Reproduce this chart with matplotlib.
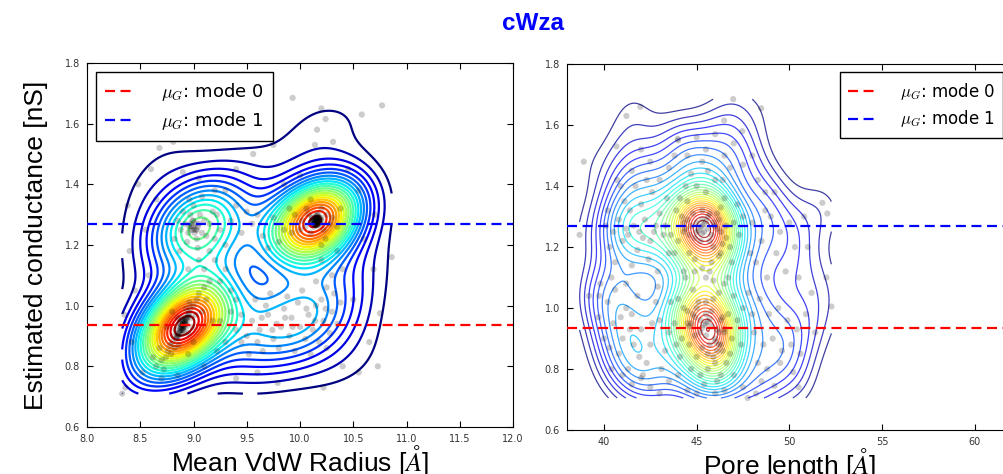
import numpy as np
import matplotlib
matplotlib.use('Agg')
import matplotlib.pyplot as plt

plt.rcParams['mathtext.fontset'] = 'cm'

title = 'cWza'
ylabel = 'Estimated conductance [nS]'
xlabels = ['Mean VdW Radius [$\\AA$]', 'Pore length [$\\AA$]']
mode_conductance = [0.935, 1.27]
mode_labels = ['$\\mu_G$: mode 0', '$\\mu_G$: mode 1']
mode_colors = ['#ff0000', '#0000ff']
radius_ticks = [8.0, 8.5, 9.0, 9.5, 10.0, 10.5, 11.0, 11.5, 12.0]
pore_ticks = [40, 45, 50, 55, 60]
cond_ticks = [0.6, 0.8, 1.0, 1.2, 1.4, 1.6, 1.8]

# (mean VdW radius, conductance) samples
radius_points = [
    (8.88, 0.93), (8.90, 0.94), (8.92, 0.935), (8.89, 0.92), (8.91, 0.95), (8.87, 0.91), (8.93, 0.96),
    (8.86, 0.90), (8.90, 0.925), (8.92, 0.945), (8.88, 0.94), (8.94, 0.95), (8.85, 0.905), (8.89, 0.955),
    (8.91, 0.915), (8.95, 0.97), (8.84, 0.89), (8.90, 0.935), (8.93, 0.93), (8.87, 0.94),
    (8.89, 0.935), (8.91, 0.94), (8.90, 0.93), (8.88, 0.925), (8.92, 0.95), (8.87, 0.915), (8.93, 0.955),
    (8.90, 0.945), (8.89, 0.925), (8.91, 0.93), (8.86, 0.91), (8.94, 0.96), (8.88, 0.92), (8.92, 0.94),
    (8.90, 0.95), (8.85, 0.90), (8.95, 0.965), (8.87, 0.93), (8.93, 0.94), (8.89, 0.91), (8.91, 0.96),
    (8.84, 0.895), (8.96, 0.975), (8.90, 0.92), (8.88, 0.95),
    (8.80, 0.88), (8.97, 0.99), (8.82, 0.86), (9.00, 1.00), (8.78, 0.87), (8.98, 0.96), (8.83, 0.92),
    (8.95, 0.91), (8.76, 0.85), (9.03, 1.02), (8.85, 0.96), (8.99, 0.93), (8.74, 0.83), (9.05, 1.04),
    (8.81, 0.90), (8.96, 1.01), (8.79, 0.84), (9.02, 0.97), (8.86, 0.87), (8.93, 0.99),
    (8.70, 0.82), (9.10, 1.06), (8.72, 0.79), (9.08, 0.98), (8.65, 0.80), (9.12, 1.02), (8.68, 0.86),
    (9.00, 0.88), (8.75, 0.93), (9.15, 1.08), (8.62, 0.83), (8.95, 0.84), (8.80, 0.98), (9.18, 0.95),
    (8.70, 0.76),
    (10.15, 1.28), (10.17, 1.27), (10.13, 1.285), (10.16, 1.29), (10.14, 1.27), (10.18, 1.28),
    (10.12, 1.275), (10.16, 1.265), (10.15, 1.295), (10.19, 1.285), (10.11, 1.29), (10.17, 1.30),
    (10.15, 1.275), (10.16, 1.285), (10.14, 1.28), (10.17, 1.275), (10.13, 1.27), (10.18, 1.29),
    (10.15, 1.265), (10.16, 1.295), (10.17, 1.275), (10.13, 1.27), (10.18, 1.29), (10.15, 1.265),
    (10.12, 1.28), (10.19, 1.27), (10.14, 1.29), (10.17, 1.285), (10.10, 1.275), (10.20, 1.28),
    (10.15, 1.285), (10.13, 1.26), (10.14, 1.275), (10.16, 1.28), (10.15, 1.27), (10.17, 1.29),
    (10.13, 1.28), (10.18, 1.275), (10.14, 1.285), (10.16, 1.27), (10.12, 1.29), (10.19, 1.28),
    (10.15, 1.29), (10.17, 1.265), (10.11, 1.28), (10.20, 1.29), (10.14, 1.265), (10.16, 1.30),
    (10.05, 1.26), (10.25, 1.30), (10.08, 1.30), (10.22, 1.25), (10.02, 1.28), (10.28, 1.27),
    (10.10, 1.24), (10.20, 1.32), (10.06, 1.32), (10.24, 1.22), (10.00, 1.25), (10.30, 1.29),
    (9.95, 1.30), (10.35, 1.26), (10.10, 1.35), (10.20, 1.20), (9.92, 1.24), (10.38, 1.32),
    (8.98, 1.26), (9.02, 1.25), (9.05, 1.27), (8.95, 1.24), (9.00, 1.28), (8.92, 1.27), (9.08, 1.24),
    (9.03, 1.22), (8.97, 1.30), (9.10, 1.28), (8.88, 1.25), (9.06, 1.30), (8.94, 1.21), (9.12, 1.23),
    (8.85, 1.28), (9.00, 1.33), (9.15, 1.27), (8.90, 1.31), (9.04, 1.19), (8.82, 1.22), (9.18, 1.31),
    (8.96, 1.35), (9.20, 1.22), (8.87, 1.18), (9.08, 1.36),
    (8.98, 1.25), (9.00, 1.26), (9.02, 1.27), (8.96, 1.26), (9.01, 1.24), (8.99, 1.28), (9.04, 1.26),
    (8.97, 1.27), (9.03, 1.25), (9.00, 1.25),
    (9.55, 0.95), (9.62, 0.92), (9.70, 0.97), (9.78, 0.94), (9.85, 0.99), (9.92, 0.96), (10.00, 0.93),
    (10.08, 0.97), (10.15, 1.00), (10.22, 0.95), (10.30, 0.98), (9.60, 0.88), (9.68, 1.00), (9.75, 0.89),
    (9.82, 0.93), (9.90, 0.90), (9.98, 1.01), (10.05, 0.89), (10.12, 0.92), (10.20, 1.02), (10.28, 0.91),
    (9.50, 0.90), (9.58, 1.02), (9.72, 1.04), (9.88, 1.03), (10.02, 1.05), (10.18, 0.88), (10.35, 0.94),
    (9.45, 0.97), (9.65, 0.85), (9.80, 0.86), (9.95, 0.85), (10.10, 0.84), (10.25, 0.86), (10.38, 1.01),
    (9.40, 0.92), (9.52, 0.84), (9.93, 0.93), (10.06, 0.99), (9.74, 0.92), (10.14, 0.95), (9.86, 0.96),
    (10.32, 1.04), (9.64, 0.96), (10.24, 0.99),
    (9.25, 1.25), (9.35, 1.28), (9.45, 1.24), (9.55, 1.27), (9.65, 1.23), (9.75, 1.29), (9.85, 1.25),
    (9.30, 1.20), (9.50, 1.31), (9.70, 1.19), (9.40, 1.33), (9.60, 1.30), (9.80, 1.21), (9.90, 1.32),
    (9.22, 1.30),
    (9.10, 1.12), (9.20, 1.15), (9.25, 1.08), (9.15, 1.18), (9.30, 1.12), (8.95, 1.12), (9.05, 1.15),
    (9.35, 1.05), (10.20, 1.15), (10.30, 1.10), (10.15, 1.08), (10.35, 1.18), (10.25, 1.06), (10.40, 1.12),
    (9.25, 0.95), (9.30, 0.88), (9.35, 0.98), (9.40, 1.02), (9.22, 0.85), (9.45, 0.88),
    (8.33, 0.71), (8.36, 0.73), (8.35, 0.97), (8.38, 1.33), (8.40, 1.18), (8.45, 1.05), (8.42, 0.88),
    (8.48, 1.40), (8.55, 1.25), (8.58, 1.10), (8.52, 0.78), (8.60, 1.45), (8.68, 1.52), (8.81, 1.54),
    (8.90, 1.44), (9.05, 1.42), (9.20, 1.38), (9.40, 1.45), (9.56, 1.50), (9.75, 1.53), (9.93, 1.685),
    (10.00, 1.43), (10.14, 1.53), (10.16, 1.58), (10.20, 1.65), (10.24, 1.615), (10.31, 1.54),
    (10.45, 1.45), (10.58, 1.63), (10.77, 1.66), (10.55, 1.38), (10.60, 1.22), (10.69, 1.12),
    (10.86, 1.16), (10.75, 0.975), (10.65, 0.88), (10.73, 0.80), (10.55, 0.78), (10.40, 0.80),
    (10.22, 0.73), (9.79, 0.745), (9.60, 0.78), (9.40, 0.76), (9.10, 0.80), (8.85, 0.77), (10.50, 1.02),
    (10.70, 1.30), (8.65, 1.35), (9.30, 1.38), (9.85, 1.40),
]

# (pore length, conductance) samples
pore_points = [
    (45.3, 1.27), (45.0, 1.28), (45.6, 1.26), (44.7, 1.27), (45.9, 1.28), (45.3, 1.29), (45.0, 1.25),
    (45.6, 1.30), (46.1, 1.26), (44.5, 1.29), (45.3, 1.245), (45.8, 1.24), (44.8, 1.31), (46.2, 1.29),
    (44.4, 1.26), (45.4, 1.275), (45.2, 1.265), (45.5, 1.285), (45.1, 1.255), (46.3, 1.25),
    (44.3, 1.28), (45.7, 1.31), (44.9, 1.23), (46.0, 1.27), (45.3, 1.32), (45.2, 1.22), (46.1, 1.31),
    (44.6, 1.24), (45.7, 1.22), (45.4, 1.25), (46.4, 1.21), (46.6, 1.23), (46.3, 1.18), (45.9, 1.20),
    (44.2, 1.30), (44.5, 1.35), (44.0, 1.22), (44.6, 1.18), (46.3, 1.33), (46.6, 1.27), (46.8, 1.20),
    (46.2, 1.17), (45.5, 1.38), (45.0, 1.40), (44.3, 1.25), (46.5, 1.36), (47.0, 1.28), (45.8, 1.15),
    (44.9, 1.16), (43.9, 1.32), (47.3, 1.24), (46.0, 1.42), (44.4, 1.40), (47.2, 1.34), (45.3, 1.13),
    (46.9, 1.15), (43.8, 1.18), (44.7, 1.44), (45.6, 1.45), (46.4, 1.42), (47.5, 1.30), (44.1, 1.36),
    (46.7, 1.10), (44.3, 1.12),
    (45.5, 0.95), (45.2, 0.96), (45.8, 0.94), (44.9, 0.97), (46.1, 0.93), (45.5, 0.98), (45.2, 0.92),
    (45.8, 0.99), (44.7, 0.95), (46.3, 0.96), (45.5, 0.91), (45.0, 1.00), (46.0, 0.90), (44.8, 0.98),
    (46.2, 0.92), (45.4, 0.945), (45.6, 0.955), (45.3, 0.935), (45.7, 0.965), (45.5, 1.02),
    (45.7, 0.88), (45.1, 1.02), (46.0, 0.89), (44.6, 0.94), (46.4, 0.97), (45.3, 0.87), (45.9, 1.03),
    (44.9, 0.91), (46.5, 0.93), (44.5, 0.99), (46.1, 0.86), (45.9, 0.84), (46.3, 0.88), (45.6, 0.85),
    (44.5, 0.95), (44.3, 1.00), (44.6, 0.88), (46.5, 0.92), (46.7, 0.98), (46.4, 0.86), (46.2, 1.05),
    (44.8, 1.06), (45.5, 1.10), (45.0, 0.84), (46.0, 0.82), (45.6, 0.80), (44.2, 0.90), (46.9, 0.90),
    (47.2, 0.96), (44.0, 1.03), (46.6, 0.82), (45.2, 0.78), (46.3, 0.78), (44.7, 0.80), (45.9, 1.09),
    (44.4, 1.10), (47.0, 1.04), (43.8, 0.95), (47.4, 0.88), (46.1, 0.76), (45.4, 0.75), (44.1, 0.84),
    (46.8, 0.85), (45.7, 1.12), (44.9, 1.12), (46.5, 1.08), (47.5, 1.00), (43.9, 0.88), (46.2, 0.88),
    (41.3, 1.24), (41.6, 1.27), (41.0, 1.22), (41.9, 1.25), (42.2, 1.29), (40.8, 1.29), (41.4, 1.32),
    (42.5, 1.22), (40.5, 1.25), (41.8, 1.19), (42.8, 1.27), (40.3, 1.20), (41.1, 1.35), (42.0, 1.34),
    (43.0, 1.31), (40.6, 1.15), (41.5, 1.14), (42.4, 1.16), (43.2, 1.24), (40.2, 1.32), (41.7, 1.40),
    (42.6, 1.38), (40.9, 1.40), (43.4, 1.36), (40.4, 1.10), (42.9, 1.12), (41.2, 1.08), (40.1, 1.27),
    (43.5, 1.18), (42.3, 1.42), (42.7, 1.25), (43.3, 1.27), (41.2, 1.26), (42.1, 1.23), (43.6, 1.24),
    (40.5, 0.95), (41.0, 0.90), (41.5, 0.98), (42.0, 0.93), (42.5, 0.88), (43.0, 0.96), (40.2, 1.02),
    (40.8, 0.85), (41.3, 0.80), (41.8, 1.04), (42.3, 0.82), (42.8, 1.02), (43.3, 0.86), (40.0, 0.90),
    (39.7, 0.97), (40.6, 1.06), (41.6, 0.88), (42.6, 0.95), (43.5, 0.92), (41.2, 1.00), (42.1, 0.78),
    (43.1, 0.80), (40.4, 0.80), (39.8, 1.08), (42.9, 1.07), (41.9, 0.84), (40.9, 0.97), (43.6, 1.02),
    (40.3, 0.87), (41.4, 0.93),
    (41.5, 1.45), (42.5, 1.48), (43.5, 1.46), (44.5, 1.50), (45.5, 1.52), (46.5, 1.50), (47.5, 1.47),
    (48.3, 1.42), (42.0, 1.52), (43.0, 1.42), (44.0, 1.55), (45.0, 1.56), (46.0, 1.57), (47.0, 1.54),
    (48.0, 1.50), (40.7, 1.42), (48.7, 1.38), (43.8, 1.50), (46.8, 1.46), (45.3, 1.48),
    (48.0, 1.28), (48.5, 1.22), (49.0, 1.30), (49.5, 1.25), (50.0, 1.28), (48.2, 1.15), (48.8, 1.10),
    (49.3, 1.18), (50.3, 1.20), (50.8, 1.30), (48.4, 1.03), (48.9, 0.98), (49.4, 1.00), (49.9, 0.96),
    (50.4, 0.93), (50.9, 0.98), (48.1, 0.92), (48.6, 0.88), (49.1, 0.90), (49.6, 0.86), (50.1, 0.88),
    (50.6, 0.85), (48.3, 0.82), (48.8, 0.80), (49.5, 0.82), (51.2, 1.05), (51.0, 1.20), (47.8, 1.05),
    (49.2, 1.38), (50.5, 1.10), (48.0, 0.98), (49.8, 1.12), (51.4, 0.92), (47.9, 1.18), (48.7, 1.32),
    (41.5, 0.75), (42.5, 0.74), (43.5, 0.76), (44.5, 0.73), (45.0, 0.72), (46.5, 0.73), (47.5, 0.74),
    (48.5, 0.76), (43.0, 0.72), (44.0, 0.78), (47.0, 0.78), (42.0, 0.77), (46.0, 0.72), (48.2, 0.72),
    (41.0, 0.78),
    (38.91, 1.48), (41.96, 1.66), (41.21, 1.63), (46.97, 1.685), (48.48, 1.655), (46.48, 1.615),
    (47.46, 1.58), (43.98, 1.555), (40.67, 1.53), (38.68, 1.24), (39.19, 1.04), (39.74, 1.04),
    (51.78, 1.345), (52.05, 1.31), (52.0, 1.10), (52.27, 1.005), (50.5, 0.74), (49.2, 0.745),
    (47.75, 0.705), (50.2, 0.79),
]


def kde_grid(pts, factor, n=220):
    # gaussian kde on a grid spanning the data
    data = np.asarray(pts, dtype=float).T
    xx = np.linspace(data[0].min(), data[0].max(), n)
    yy = np.linspace(data[1].min(), data[1].max(), n)
    X, Y = np.meshgrid(xx, yy)
    inv = np.linalg.inv(np.cov(data) * factor ** 2)
    dx = X.ravel()[:, None] - data[0][None, :]
    dy = Y.ravel()[:, None] - data[1][None, :]
    q = inv[0, 0] * dx ** 2 + 2 * inv[0, 1] * dx * dy + inv[1, 1] * dy ** 2
    Z = np.exp(-0.5 * q).sum(axis=1).reshape(X.shape)
    return X, Y, Z


fig = plt.figure(figsize=(10.04, 4.74), dpi=100)
ax1 = fig.add_axes([0.0867, 0.0992, 0.4243, 0.768])
ax2 = fig.add_axes([0.5647, 0.0928, 0.443, 0.772])

panels = [
    (ax1, radius_points, 0.45, 24, 0.07, 1.6, 1.0, (8, 12), radius_ticks, '%.1f', 'upper left', 13),
    (ax2, pore_points, 0.33, 30, 0.06, 0.9, 0.75, (38, 62), pore_ticks, '%d', 'upper right', 12),
]

for i, (ax, pts, bw, nlev, lo, lw, alpha, xlim, xt, fmt, loc, lfs) in enumerate(panels):
    X, Y, Z = kde_grid(pts, bw)
    levels = np.linspace(lo * Z.max(), Z.max(), nlev)
    ax.contour(X, Y, Z, levels=levels, cmap='jet', linewidths=lw, alpha=alpha, zorder=2)
    xs, ys = zip(*pts)
    ax.scatter(xs, ys, s=20, color='k', alpha=0.2, edgecolors='none', zorder=3)
    for val, lab, col in zip(mode_conductance, mode_labels, mode_colors):
        ax.axhline(val, color=col, lw=1.6, dashes=(4.5, 2.5), label=lab, zorder=4)
    ax.set_xlim(*xlim)
    ax.set_ylim(0.6, 1.8)
    ax.set_xticks(xt)
    ax.set_xticklabels([fmt % t for t in xt])
    ax.set_yticks(cond_ticks)
    ax.set_yticklabels(['%.1f' % t for t in cond_ticks])
    ax.tick_params(direction='in', top=True, right=True, labelsize=7, labelcolor='#333333', length=4, pad=5)
    ax.set_xlabel(xlabels[i], fontsize=19, family='Liberation Sans', labelpad=-1)
    leg = ax.legend(loc=loc, fontsize=lfs, handlelength=1.6, handletextpad=1.5, borderpad=0.5,
                    labelspacing=0.4, fancybox=False, framealpha=1)
    leg.get_frame().set_edgecolor('black')

ax1.set_ylabel(ylabel, fontsize=19, family='Liberation Sans', labelpad=12)
fig.text(0.531, 0.950, title, color='#0000ff', fontsize=17.5, fontweight='bold',
         family='Liberation Sans', ha='center', va='center')

fig.savefig('out.png', dpi=100)
